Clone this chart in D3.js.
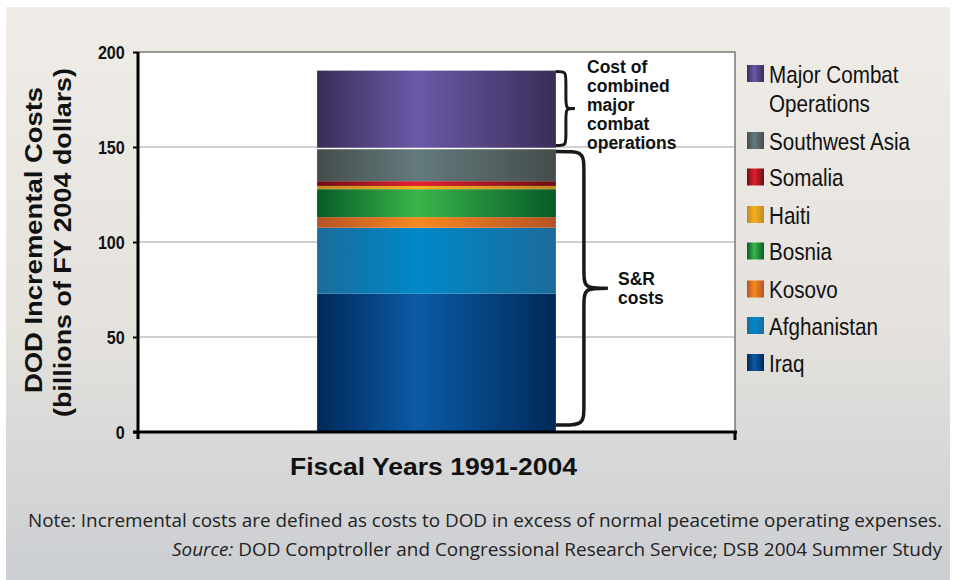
<!DOCTYPE html>
<html><head><meta charset="utf-8">
<script src="https://cdn.jsdelivr.net/npm/d3@7"></script>
<style>
html,body{margin:0;padding:0;background:#fff;}
svg{display:block;}
</style></head>
<body>
<svg id="chart" width="955" height="580"></svg>
<script>
// ---- data ----
const category = ["Fiscal Years 1991-2004"];
const seriesNames = ["Iraq","Afghanistan","Kosovo","Bosnia","Haiti","Somalia","Southwest Asia","Major Combat Operations"];
const seriesValues = [72.8, 34.7, 5.6, 14.7, 1.7, 2.5, 17.2, 41.0];
const legendOrder = ["Major Combat Operations","Southwest Asia","Somalia","Haiti","Bosnia","Kosovo","Afghanistan","Iraq"];
const yTicks = [0, 50, 100, 150, 200];
const edgeColors = ["#00295a","#1b6c9a","#b55226","#065c27","#c08a22","#6d0f14","#454d4c","#3a2d58"];
const centerColors = ["#0c5aa6","#0088c9","#f7891f","#3bb54a","#f2b01e","#e21f2f","#647a7c","#6a5aa8"];
const combatLabel = ["Cost of","combined","major","combat","operations"];
const srLabel = ["S&R","costs"];

const svg = d3.select("#chart");
const defs = svg.append("defs");

// background gradient
const bg = defs.append("linearGradient").attr("id","bg").attr("x1",0).attr("y1",0).attr("x2",0).attr("y2",1);
bg.append("stop").attr("offset","0").attr("stop-color","#f0ede8");
bg.append("stop").attr("offset","0.55").attr("stop-color","#e5e2dd");
bg.append("stop").attr("offset","1").attr("stop-color","#cbced2");
svg.append("rect").attr("x",6).attr("y",7).attr("width",944).attr("height",573).attr("fill","url(#bg)");

seriesNames.forEach((s,i)=>{
  const g = defs.append("linearGradient").attr("id","g"+i).attr("x1",0).attr("y1",0).attr("x2",1).attr("y2",0);
  g.append("stop").attr("offset","0").attr("stop-color",edgeColors[i]);
  g.append("stop").attr("offset","0.42").attr("stop-color",centerColors[i]);
  g.append("stop").attr("offset","1").attr("stop-color",edgeColors[i]);
});

const m = {left:138, top:52, right:735, bottom:432};
const x = d3.scaleBand().domain(category).range([m.left, m.right]).paddingInner(0).paddingOuter(0.75);
const y = d3.scaleLinear().domain([0,200]).range([m.bottom, m.top]);

// plot area
svg.append("rect").attr("x",m.left).attr("y",m.top).attr("width",m.right-m.left).attr("height",m.bottom-m.top).attr("fill","#fff");
// gridlines
svg.append("g").selectAll("line").data(yTicks.filter(d=>d>0 && d<200)).join("line")
  .attr("x1",m.left).attr("x2",m.right).attr("y1",d=>y(d)).attr("y2",d=>y(d))
  .attr("stroke","#d0d0d0").attr("stroke-width",2);
// frame top/right
svg.append("path").attr("d",`M${m.left},${m.top}H${m.right}V${m.bottom}`).attr("fill","none").attr("stroke","#7a7a7a").attr("stroke-width",1.5);

// stacked bar
const stack = [];
let acc = 0;
seriesValues.forEach((v,i)=>{ stack.push({name:seriesNames[i], y0:acc, y1:acc+v, i}); acc+=v; });
svg.append("g").selectAll("rect").data(stack).join("rect")
  .attr("x",x(category[0])).attr("width",x.bandwidth())
  .attr("y",d=>y(d.y1)).attr("height",d=>y(d.y0)-y(d.y1))
  .attr("fill",d=>"url(#g"+d.i+")");
// white separator under major combat
const mco = stack[stack.length-1];
svg.append("line").attr("x1",x(category[0])).attr("x2",x(category[0])+x.bandwidth())
  .attr("y1",y(mco.y0)).attr("y2",y(mco.y0)).attr("stroke","#fff").attr("stroke-width",1.5);

// y axis
const yAxis = d3.axisLeft(y).tickValues(yTicks).tickSize(5).tickSizeOuter(0).tickFormat(d3.format("d"));
const ga = svg.append("g").attr("transform",`translate(${m.left},0)`).call(yAxis);
ga.select(".domain").remove();
ga.selectAll(".tick line").attr("stroke","#000").attr("stroke-width",2);
ga.selectAll(".tick text").attr("font-family","'Liberation Sans',Arial,sans-serif").attr("font-weight","bold")
  .attr("font-size",19).attr("fill","#111").attr("x",-15.5).attr("dy","0.36em").attr("transform","scale(0.85,1)");
svg.append("line").attr("x1",m.left).attr("x2",m.left).attr("y1",m.top).attr("y2",m.bottom+7).attr("stroke","#000").attr("stroke-width",3);
svg.append("line").attr("x1",m.left-5).attr("x2",m.right+2).attr("y1",m.bottom).attr("y2",m.bottom).attr("stroke","#000").attr("stroke-width",3);
svg.append("line").attr("x1",m.right).attr("x2",m.right).attr("y1",m.bottom).attr("y2",m.bottom+8).attr("stroke","#000").attr("stroke-width",3);

// axis titles
const ff = "'Liberation Sans',Arial,Helvetica,sans-serif";
svg.append("text").attr("transform","translate(42,240) rotate(-90)").attr("text-anchor","middle")
  .attr("font-family",ff).attr("font-weight","bold").attr("font-size",23.5).attr("fill","#111")
  .attr("textLength",306).attr("lengthAdjust","spacingAndGlyphs").text("DOD Incremental Costs");
svg.append("text").attr("transform","translate(71,242.5) rotate(-90)").attr("text-anchor","middle")
  .attr("font-family",ff).attr("font-weight","bold").attr("font-size",23.5).attr("fill","#111")
  .attr("textLength",349).attr("lengthAdjust","spacingAndGlyphs").text("(billions of FY 2004 dollars)");
svg.append("text").attr("x",x(category[0])+x.bandwidth()/2-3).attr("y",475).attr("text-anchor","middle")
  .attr("font-family",ff).attr("font-weight","bold").attr("font-size",24).attr("fill","#111")
  .attr("textLength",287).attr("lengthAdjust","spacingAndGlyphs").text(category[0]);

// braces
function brace(x0, yTop, yBot, x1, xt, r){
  const ym = (yTop+yBot)/2;
  return `M${x0},${yTop} C${x1},${yTop} ${x1},${yTop} ${x1},${yTop+r} L${x1},${ym-r} C${x1},${ym} ${x1},${ym} ${xt},${ym}`+
         ` C${x1},${ym} ${x1},${ym} ${x1},${ym+r} L${x1},${yBot-r} C${x1},${yBot} ${x1},${yBot} ${x0},${yBot}`;
}
const bx = x(category[0])+x.bandwidth();
svg.append("path").attr("d",brace(bx, y(mco.y1)+1, y(mco.y0)-3, bx+10, bx+19, 12))
  .attr("fill","none").attr("stroke","#1a1a1a").attr("stroke-width",3);
svg.append("path").attr("d",brace(bx, y(mco.y0)+3, y(0)-7, bx+28, bx+52, 22))
  .attr("fill","none").attr("stroke","#1a1a1a").attr("stroke-width",3.5);

svg.append("g").selectAll("text").data(combatLabel).join("text")
  .attr("x",587).attr("y",(d,i)=>73+i*19).attr("font-family",ff).attr("font-weight","bold")
  .attr("font-size",17.5).attr("fill","#111").text(d=>d);
svg.append("g").selectAll("text").data(srLabel).join("text")
  .attr("x",618).attr("y",(d,i)=>284.5+i*19).attr("font-family",ff).attr("font-weight","bold")
  .attr("font-size",17.5).attr("fill","#111").text(d=>d);

// legend
const legY = [65,132,168.5,206,242.5,280.5,317,354];
const lg = svg.append("g");
legendOrder.forEach((name,k)=>{
  const i = seriesNames.indexOf(name);
  lg.append("rect").attr("x",747).attr("y",legY[k]).attr("width",17).attr("height",17).attr("fill","url(#g"+i+")");
  const lines = name==="Major Combat Operations" ? ["Major Combat","Operations"] : [name];
  lines.forEach((ln,j)=>{
    lg.append("text").attr("transform",`translate(769,${legY[k]+17.5+j*29.5}) scale(0.86,1)`)
      .attr("font-family",ff).attr("font-size",24).attr("fill","#111").text(ln);
  });
});

// notes
const nf = "'Open Sans','Noto Sans',sans-serif";
svg.append("text").attr("x",942).attr("y",527).attr("text-anchor","end").attr("font-family",nf)
  .attr("font-size",18).attr("fill","#222").attr("textLength",914).attr("lengthAdjust","spacingAndGlyphs")
  .text("Note: Incremental costs are defined as costs to DOD in excess of normal peacetime operating expenses.");
const src = svg.append("text").attr("x",942).attr("y",556).attr("text-anchor","end").attr("font-family",nf)
  .attr("font-size",18).attr("fill","#222").attr("textLength",770).attr("lengthAdjust","spacingAndGlyphs");
src.append("tspan").attr("font-style","italic").text("Source:");
src.append("tspan").text(" DOD Comptroller and Congressional Research Service; DSB 2004 Summer Study");
</script>
</body></html>
